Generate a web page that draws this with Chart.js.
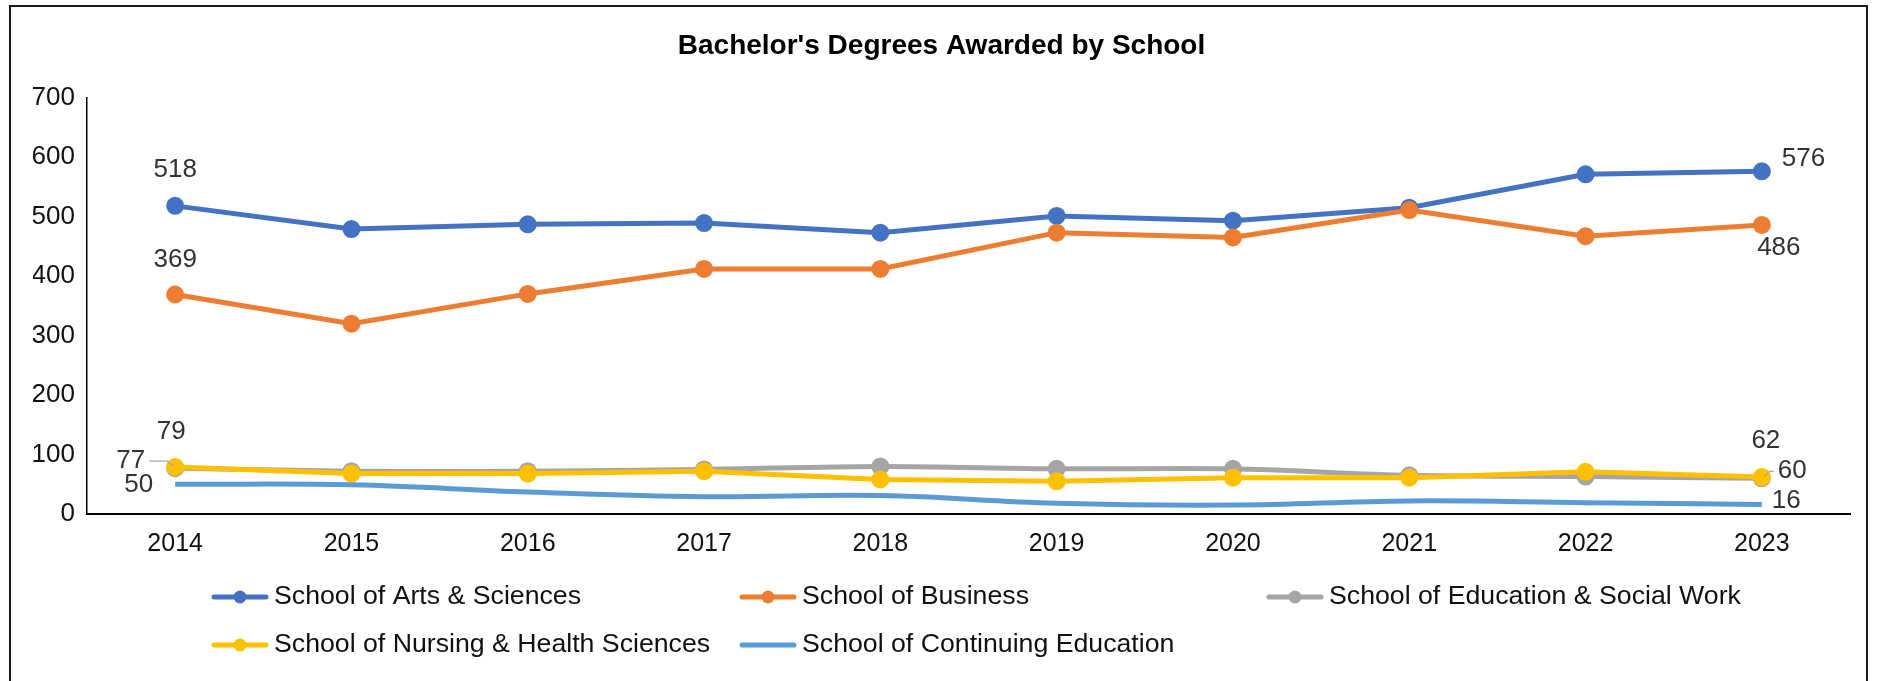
<!DOCTYPE html>
<html>
<head>
<meta charset="utf-8">
<title>Bachelor's Degrees Awarded by School</title>
<script src="https://cdn.jsdelivr.net/npm/chart.js@4.4.3/dist/chart.umd.min.js"></script>
<style>
    html, body { margin: 0; padding: 0; background: #fff; overflow: hidden; }
    #frame {
        position: absolute; left: 9px; top: 5px; width: 1859px; height: 720px;
        border: 2px solid #1a1a1a; box-sizing: border-box;
    }
    #chart { position: absolute; left: 0; top: 0; }
</style>
</head>
<body>
<div id="frame"></div>
<canvas id="chart" width="1883" height="681"></canvas>
<script>
const years = ['2014', '2015', '2016', '2017', '2018', '2019', '2020', '2021', '2022', '2023'];
const artsSciences = [518, 479, 487, 489, 473, 501, 493, 515, 571, 576];
const business = [369, 320, 370, 412, 412, 473, 465, 511, 467, 486];
const educationSocialWork = [77, 72, 72, 75, 80, 76, 76, 65, 63, 60];
const nursingHealth = [79, 68, 68, 72, 58, 55, 61, 61, 71, 62];
const continuingEd = [50, 49, 37, 29, 31, 18, 15, 22, 19, 16];
const yTicks = [0, 100, 200, 300, 400, 500, 600, 700];

const FONT = "'Liberation Sans', Arial, sans-serif";

// which points carry a value label, and where it sits relative to the point
const valueLabels = [
    { ds: 0, i: 0, dx: 0, dy: -36, align: 'center' },
    { ds: 0, i: 9, dx: 20, dy: -13, align: 'left' },
    { ds: 1, i: 0, dx: 0, dy: -35, align: 'center' },
    { ds: 1, i: 9, dx: 17, dy: 23, align: 'center' },
    { ds: 2, i: 0, dx: -30, dy: -7, align: 'right', leader: true },
    { ds: 2, i: 9, dx: 16, dy: -7, align: 'left', leader: true },
    { ds: 3, i: 0, dx: -4, dy: -35, align: 'center' },
    { ds: 3, i: 9, dx: 4, dy: -36, align: 'center' },
    { ds: 4, i: 0, dx: -22, dy: 1, align: 'right' },
    { ds: 4, i: 9, dx: 10, dy: -4, align: 'left' }
];

const valueLabelPlugin = {
    id: 'valueLabels',
    afterDatasetsDraw(chart) {
        const ctx = chart.ctx;
        const x = chart.scales.x, y = chart.scales.y;
        ctx.save();
        ctx.font = '26px ' + FONT;
        ctx.fillStyle = '#333';
        ctx.textBaseline = 'middle';
        valueLabels.forEach(l => {
            const v = chart.data.datasets[l.ds].data[l.i];
            const px = x.getPixelForValue(l.i);
            const py = y.getPixelForValue(v);
            const tx = px + l.dx, ty = py + l.dy;
            ctx.textAlign = l.align;
            ctx.fillText(String(v), tx, ty);
            if (l.leader) {
                ctx.strokeStyle = '#a6a6a6';
                ctx.lineWidth = 1.2;
                ctx.beginPath();
                if (l.dx < 0) {
                    ctx.moveTo(tx + 4, ty);
                    ctx.lineTo(px - 8, ty);
                    ctx.lineTo(px - 2, py - 2);
                } else {
                    ctx.moveTo(tx - 4, ty);
                    ctx.lineTo(px + 8, ty);
                    ctx.lineTo(px + 2, py - 2);
                }
                ctx.stroke();
            }
        });
        ctx.restore();
    }
};

// legend laid out in fixed columns under the plot
const gridLegendPlugin = {
    id: 'gridLegend',
    afterDraw(chart) {
        const ctx = chart.ctx;
        const colX = [214, 742, 1269];
        const rowY = [597, 645];
        ctx.save();
        ctx.font = '26.7px ' + FONT;
        ctx.textBaseline = 'middle';
        ctx.textAlign = 'left';
        chart.data.datasets.forEach((ds, k) => {
            const cx = colX[k % 3], cy = rowY[Math.floor(k / 3)];
            ctx.strokeStyle = ds.borderColor;
            ctx.lineWidth = 5;
            ctx.lineCap = 'round';
            ctx.beginPath();
            ctx.moveTo(cx, cy);
            ctx.lineTo(cx + 52, cy);
            ctx.stroke();
            if (ds.pointRadius > 0) {
                ctx.fillStyle = ds.borderColor;
                ctx.beginPath();
                ctx.arc(cx + 26, cy, 6.5, 0, Math.PI * 2);
                ctx.fill();
            }
            ctx.fillStyle = '#111';
            ctx.fillText(ds.label, cx + 60, cy);
        });
        ctx.restore();
    }
};

function series(label, data, color, opts) {
    return Object.assign({
        label: label,
        data: data,
        borderColor: color,
        backgroundColor: color,
        pointBackgroundColor: color,
        pointBorderColor: color,
        borderWidth: 5,
        pointRadius: 6.5,
        pointHoverRadius: 6.5,
        tension: 0,
        fill: false
    }, opts || {});
}

new Chart(document.getElementById('chart'), {
    type: 'line',
    data: {
        labels: years,
        datasets: [
            series('School of Arts & Sciences', artsSciences, '#4472C4', { order: 5 }),
            series('School of Business', business, '#ED7D31', { order: 4 }),
            series('School of Education & Social Work', educationSocialWork, '#A5A5A5', { order: 3, tension: 0.3 }),
            series('School of Nursing & Health Sciences', nursingHealth, '#FFC000', { order: 2 }),
            series('School of Continuing Education', continuingEd, '#5B9BD5', { order: 1, pointRadius: 0, tension: 0.4 })
        ]
    },
    options: {
        responsive: false,
        animation: false,
        layout: { padding: { left: 33, right: 33, top: 0, bottom: 117 } },
        plugins: {
            legend: { display: false },
            tooltip: { enabled: false },
            title: {
                display: true,
                text: "Bachelor's Degrees Awarded by School",
                color: '#000',
                font: { family: FONT, size: 28, weight: 'bold' },
                padding: { top: 29, bottom: 35 }
            }
        },
        scales: {
            x: {
                offset: true,
                grid: { display: false, drawTicks: false },
                border: { display: true, color: '#000', width: 2 },
                ticks: { color: '#111', font: { family: FONT, size: 25 }, padding: 15, maxRotation: 0 },
                afterFit(scale) { scale.height = 50; }
            },
            y: {
                min: 0,
                max: 700,
                afterBuildTicks(scale) { scale.ticks = yTicks.map(v => ({ value: v })); },
                grid: { display: false, drawTicks: false },
                border: { display: true, color: '#000', width: 1.5 },
                ticks: { color: '#111', font: { family: FONT, size: 26 }, padding: 12 },
                afterFit(scale) { scale.width = 54; }
            }
        }
    },
    plugins: [valueLabelPlugin, gridLegendPlugin]
});
</script>
</body>
</html>
